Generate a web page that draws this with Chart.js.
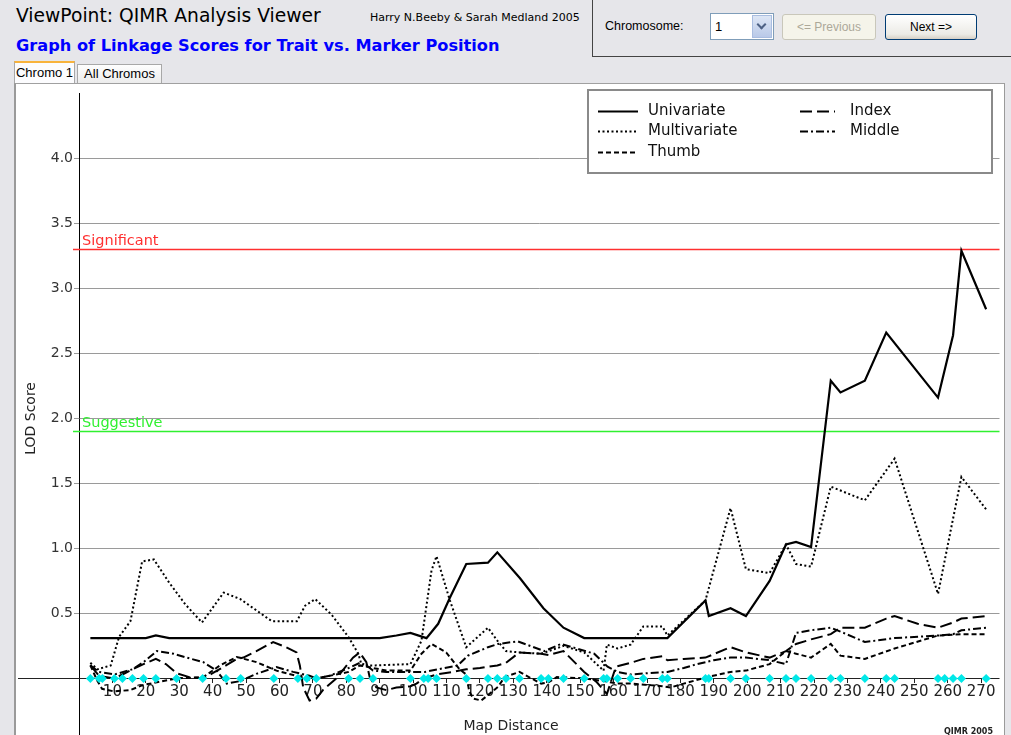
<!DOCTYPE html>
<html><head><meta charset="utf-8">
<script src="https://cdn.jsdelivr.net/npm/chart.js@4"></script>
<style>
html,body{margin:0;padding:0;width:1011px;height:735px;overflow:hidden;background:#e6e6ea;font-family:"Liberation Sans",Arial,sans-serif;}
#app{position:relative;width:1011px;height:735px;overflow:hidden;}
.abs{position:absolute;white-space:nowrap;}
#t1{left:16px;top:5px;font-size:18.7px;color:#000;font-family:"DejaVu Sans",sans-serif;}
#t2{left:370px;top:11px;font-size:11px;color:#000;font-family:"DejaVu Sans",sans-serif;}
#t3{left:16px;top:36px;font-size:16.2px;font-weight:bold;color:#0000ff;font-family:"DejaVu Sans",sans-serif;}
#ctrl{left:592px;top:-2px;width:430px;height:58px;border-left:1px solid #444;border-bottom:1px solid #444;}
#lblc{left:605px;top:19px;font-size:12.5px;color:#000;}
#sel{left:710px;top:13px;width:64px;height:27px;background:#fff;border:1px solid #7f9db9;box-sizing:border-box;}
#sel span{position:absolute;left:4px;top:5px;font-size:13px;}
#selbtn{position:absolute;right:1px;top:1px;width:20px;height:23px;background:linear-gradient(#dde6f5,#b9c9e8);border:1px solid #a9bde0;box-sizing:border-box;}
#selbtn i{position:absolute;left:5px;top:5px;width:5px;height:5px;border-right:2px solid #4d6185;border-bottom:2px solid #4d6185;transform:rotate(45deg);}
.btn{top:14px;height:26px;box-sizing:border-box;border-radius:3px;font-size:12px;text-align:center;line-height:24px;}
#prev{left:782px;width:94px;background:#f5f4ea;border:1px solid #c9c7ba;color:#aca899;}
#next{left:885px;width:92px;background:linear-gradient(#ffffff,#ecebe6 80%,#d6d0c5);border:1px solid #003c74;color:#000;}
#panel{left:14px;top:83px;width:988px;height:700px;background:#fff;border-left:2px solid #9a9a9a;border-top:1px solid #a0a0a0;border-right:1px solid #9a9a9a;}
#tab1{left:14px;top:61px;width:61px;height:22px;background:#fcfcfe;border:1px solid #a8a8a8;border-top:2px solid #f8b33c;border-bottom:none;box-sizing:border-box;font-size:13px;line-height:19px;text-align:center;z-index:3;}
#tab2{left:77px;top:64px;width:85px;height:19px;background:linear-gradient(#fefefe,#ececec);border:1px solid #a8a8a8;border-bottom:none;box-sizing:border-box;font-size:13px;line-height:18px;text-align:center;}
#cv{position:absolute;left:16px;top:84px;}
</style></head>
<body><div id="app">
<div class="abs" id="t1">ViewPoint: QIMR Analysis Viewer</div>
<div class="abs" id="t2">Harry N.Beeby &amp; Sarah Medland 2005</div>
<div class="abs" id="t3">Graph of Linkage Scores for Trait vs. Marker Position</div>
<div class="abs" id="ctrl"></div>
<div class="abs" id="lblc">Chromosome:</div>
<div class="abs" id="sel"><span>1</span><div id="selbtn"><i></i></div></div>
<div class="abs btn" id="prev">&lt;= Previous</div>
<div class="abs btn" id="next">Next =&gt;</div>
<div class="abs" id="panel"></div>
<div class="abs" id="tab1">Chromo 1</div>
<div class="abs" id="tab2">All Chromos</div>
<canvas id="cv" width="988" height="680"></canvas>
</div>
<script>
// ---- data (map distance in cM, LOD score) ----
const markerPos = [3.4,6,7,10.6,13,16,19.3,23,29.2,37,44,48.4,58.3,65.5,68.2,71,80.7,84.1,88,99.2,103.2,104.5,107,115.9,122.4,125.2,127.8,131.8,138.3,140.5,145,151.2,157,158,161.2,165.1,168.9,174.6,176.1,187.5,188.5,195,199.6,206.7,211.6,214.6,219.1,225,227.9,235.2,241.6,244.1,257.1,259.1,261.6,264.1,271.5];

const uniX = [3.4,20,23,27,90,95,99.2,104,107.5,111,115.9,122.4,125.2,132,139,145,151.2,176.1,187.5,188.5,195,199.6,206.7,211.6,214.6,219.1,225,227.9,235.2,241.6,257.1,261.6,264.1,271.5];
const uniY = [0.31,0.31,0.33,0.31,0.31,0.33,0.35,0.31,0.42,0.62,0.88,0.89,0.97,0.77,0.54,0.39,0.31,0.31,0.6,0.48,0.54,0.48,0.75,1.03,1.05,1.01,2.29,2.2,2.29,2.66,2.16,2.64,3.29,2.84];

const mulX = [3.4,5.5,9.5,12,15.4,18.9,22.4,26.9,31.8,36.8,43.3,48.3,57.7,65.2,67.7,70.7,75.6,80.6,83.6,84.6,88.6,99.2,102.5,105.5,107,111,115.9,122.4,125.2,127.8,131.8,138.3,145,151.2,157,158,161.2,165.1,168.9,174.6,176.1,187.5,195,199.6,206.7,211.6,214.6,219.1,225,235.2,244.1,257.1,264.1,271.5];
const mulY = [0.12,0.07,0.1,0.32,0.44,0.9,0.915,0.74,0.57,0.43,0.66,0.61,0.44,0.44,0.56,0.61,0.49,0.32,0.19,0.1,0.1,0.11,0.29,0.83,0.94,0.6,0.24,0.39,0.29,0.21,0.2,0.19,0.25,0.2,0.06,0.26,0.23,0.26,0.4,0.4,0.33,0.6,1.31,0.84,0.81,1.03,0.88,0.86,1.475,1.37,1.69,0.65,1.55,1.3];

const thumbX = [3.4,5.4,6.9,10.4,15.3,19.3,23.3,29.2,37.2,42.2,47.2,53.1,59.1,65.1,69,71,77,80.7,84.1,88,92,99.2,102.5,105.5,109.9,113.9,115.9,116.8,118,120.4,125.4,127.4,131.8,138.3,140.5,143,151.2,157,161.2,165.1,170,174.6,177,181,188,195,199.6,206.7,211.6,214.6,219.1,225,227.9,235.2,244.1,257.1,264.1,271.5];
const thumbY = [0.1,-0.015,-0.08,-0.1,-0.09,-0.05,-0.03,0.0,0.01,0.1,0.165,0.125,0.06,0.02,-0.01,0.0,0.03,0.05,0.1,0.08,0.06,0.06,0.19,0.265,0.2,0.07,0.03,-0.1,-0.155,-0.17,-0.065,0.01,0.05,-0.04,-0.03,0.01,0.0,-0.02,-0.04,-0.04,-0.05,-0.06,-0.07,-0.04,0.01,0.05,0.06,0.11,0.21,0.19,0.16,0.265,0.175,0.15,0.23,0.33,0.34,0.34];

const indexX = [3.4,6,10.6,13,16,19.3,23,26,29.2,33,37,40,44,47.2,49.2,53.1,58.1,62,65.1,66.1,67.1,69,71,73,77,82,84,86,87,89,92,95,99.2,101,103.2,107,112,115.9,120,122.4,125.2,127.8,131.8,138.3,140.5,145,151.2,155,158,160.7,165.1,168.9,174.6,176.1,181,187.5,195,199.6,206.7,211.6,214.6,219.1,225,227.9,235.2,241.6,244.1,251,257.1,261.6,264.1,271.5];
const indexY = [0.1,0.02,0.0,0.03,0.07,0.11,0.15,0.11,0.04,0.01,0.0,0.04,0.1,0.15,0.16,0.21,0.28,0.24,0.2,0.1,-0.07,-0.17,-0.155,-0.09,0.0,0.16,0.2,0.125,0.01,-0.07,-0.09,-0.07,-0.06,-0.04,0.0,0.03,0.05,0.07,0.08,0.09,0.1,0.12,0.2,0.19,0.18,0.21,0.05,-0.03,-0.12,0.09,0.12,0.15,0.17,0.14,0.15,0.16,0.24,0.2,0.16,0.21,0.265,0.3,0.34,0.39,0.39,0.46,0.48,0.42,0.39,0.43,0.46,0.48];

const middleX = [3.4,6,10.6,16,19.3,23.3,28.3,32.2,37.2,41.2,44.2,48.4,53.1,59.1,64.1,69,71,75,80.7,84.1,86,88,92,99.2,103.5,113.4,116.4,122.4,125.4,131.3,139.3,144.3,154.2,158.2,161.2,165.1,170,176.1,181,185,190,195,199.6,206.7,211.6,214.6,219.1,225,227.9,235.2,244.1,257.1,261.6,264.1,271.5];
const middleY = [0.1,0.05,0.03,0.07,0.125,0.21,0.19,0.16,0.125,0.06,-0.04,-0.02,0.035,0.087,0.05,0.02,0.0,0.02,0.08,0.12,0.1,0.06,0.05,0.05,0.05,0.1,0.175,0.24,0.265,0.285,0.21,0.265,0.19,0.09,0.05,0.03,0.04,0.05,0.08,0.11,0.14,0.16,0.16,0.14,0.11,0.35,0.37,0.39,0.36,0.28,0.31,0.33,0.34,0.37,0.39];

const SIGNIFICANT = 3.3, SUGGESTIVE = 1.9;
const yTicks = [0.5,1.0,1.5,2.0,2.5,3.0,3.5,4.0];
const xTickStep = 10;

const series = [
  {label:'Univariate',  xs:uniX,    ys:uniY,    dash:[],          width:2.2},
  {label:'Multivariate',xs:mulX,    ys:mulY,    dash:[2,2.5],     width:2},
  {label:'Thumb',       xs:thumbX,  ys:thumbY,  dash:[5,3],       width:2},
  {label:'Index',       xs:indexX,  ys:indexY,  dash:[12,5],      width:2},
  {label:'Middle',      xs:middleX, ys:middleY, dash:[8,3,2,3],   width:2}
];
const pts = (xs, ys) => xs.map((x, i) => ({x, y: ys[i]}));

const FONT = '"DejaVu Sans", sans-serif';

const decor = {
  id: 'decor',
  beforeDatasetsDraw(chart) {
    const {ctx, chartArea: a, scales: {x, y}} = chart;
    ctx.save();
    [[SIGNIFICANT, '#ff3030', 'Significant'], [SUGGESTIVE, '#30f030', 'Suggestive']].forEach(([v, c, t]) => {
      const py = Math.round(y.getPixelForValue(v)) + 0.5;
      ctx.strokeStyle = c; ctx.lineWidth = 1.5;
      ctx.beginPath(); ctx.moveTo(a.left - 6, py); ctx.lineTo(a.right, py); ctx.stroke();
      ctx.fillStyle = c; ctx.font = '14.5px ' + FONT; ctx.textBaseline = 'alphabetic'; ctx.textAlign = 'left';
      ctx.fillText(t, a.left + 3, py - 5);
    });
    const z = Math.round(y.getPixelForValue(0)) + 0.5;
    ctx.strokeStyle = '#222'; ctx.lineWidth = 1;
    ctx.beginPath(); ctx.moveTo(2, z); ctx.lineTo(a.right, z); ctx.stroke();
    ctx.restore();
  },
  afterDraw(chart) {
    const {ctx} = chart;
    ctx.save();
    ctx.fillStyle = '#222'; ctx.font = '14px ' + FONT; ctx.textAlign = 'center'; ctx.textBaseline = 'middle';
    ctx.fillText('Map Distance', 495, 642);
    const L = 572, T = 6, W = 404, H = 83;
    ctx.fillStyle = '#fff'; ctx.fillRect(L, T, W, H);
    ctx.strokeStyle = '#8a8a8a'; ctx.lineWidth = 2; ctx.strokeRect(L, T, W, H);
    const pos = [[582, 27, 40], [582, 47, 40], [582, 68, 40], [784, 27, 35], [784, 47, 35]];
    series.forEach((s, i) => {
      const [lx, ly, len] = pos[i];
      ctx.strokeStyle = '#000'; ctx.lineWidth = 2; ctx.setLineDash(s.dash);
      ctx.beginPath(); ctx.moveTo(lx, ly + 0.5); ctx.lineTo(lx + len, ly + 0.5); ctx.stroke();
      ctx.setLineDash([]);
      ctx.fillStyle = '#111'; ctx.font = '15px ' + FONT; ctx.textAlign = 'left'; ctx.textBaseline = 'middle';
      ctx.fillText(s.label, i < 3 ? 632 : 834, ly);
    });
    ctx.fillStyle = '#222'; ctx.font = 'bold 8px ' + FONT; ctx.textAlign = 'left'; ctx.textBaseline = 'middle';
    ctx.fillText('QIMR 2005', 928, 648);
    ctx.restore();
  }
};

const datasets = [{
  label: 'Markers', data: markerPos.map(p => ({x: p, y: 0})), showLine: false,
  pointStyle: 'rectRot', pointRadius: 4.5, pointBackgroundColor: '#00e8e8', pointBorderWidth: 0, pointBorderColor: '#00e8e8'
}].concat(series.map(s => ({
  label: s.label, data: pts(s.xs, s.ys), showLine: true, borderColor: '#000', borderWidth: s.width,
  borderDash: s.dash, pointRadius: 0, tension: 0, fill: false
})));

new Chart(document.getElementById('cv'), {
  type: 'scatter',
  data: {datasets},
  options: {
    responsive: false, animation: false, devicePixelRatio: 1,
    layout: {padding: {top: 5, right: 1, left: 0, bottom: 20.6}},
    plugins: {legend: {display: false}, tooltip: {enabled: false}},
    scales: {
      x: {
        type: 'linear', min: 0, max: 275.5, position: {y: 0},
        afterBuildTicks: s => { s.ticks = s.ticks.filter(t => t.value > 0 && t.value % xTickStep === 0); },
        border: {display: false},
        grid: {drawOnChartArea: false, drawTicks: true, tickLength: 5, color: '#222'},
        ticks: {stepSize: xTickStep, includeBounds: false, autoSkip: false, maxRotation: 0, padding: 0, color: '#222',
          font: {family: '"DejaVu Sans"', size: 15}}
      },
      y: {
        type: 'linear', min: -0.5, max: 4.5, position: 'left',
        afterFit: s => { s.width = 63; },
        border: {display: true, color: '#000', width: 1},
        grid: {color: c => yTicks.includes(c.tick.value) ? '#9a9a9a' : 'rgba(0,0,0,0)', tickLength: 5, lineWidth: 1},
        ticks: {stepSize: 0.5, padding: 1, color: '#333', font: {family: '"DejaVu Sans"', size: 14},
          callback: v => yTicks.includes(v) ? v.toFixed(1) : ''},
        title: {display: true, text: 'LOD Score', color: '#222', font: {family: '"DejaVu Sans"', size: 14}, padding: {top: 7}}
      }
    }
  },
  plugins: [decor]
});
</script>
</body></html>
